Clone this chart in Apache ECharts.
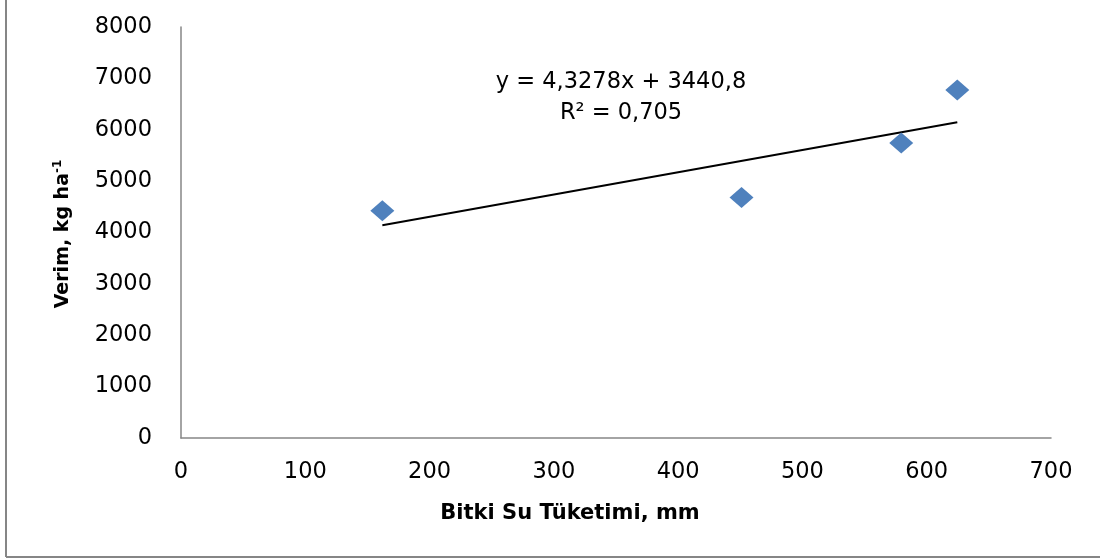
<!DOCTYPE html>
<html>
<head>
<meta charset="utf-8">
<script src="https://cdn.jsdelivr.net/npm/echarts@6/dist/echarts.min.js"></script>
<style>
html,body{margin:0;padding:0;background:#fff;}
#chart{width:1100px;height:559px;}
</style>
</head>
<body>
<div id="chart"></div>
<script>
// Data
var waterUse = [162, 451, 579.5, 624.6];          // Bitki Su Tüketimi, mm
var yieldVals = [4424, 4680, 5741, 6773];         // Verim, kg ha-1
var trendSlope = 4.3278;
var trendIntercept = 3440.8;
var equationText = 'y = 4,3278x + 3440,8';
var r2Text = 'R² = 0,705';
var xTitle = 'Bitki Su Tüketimi, mm';
var yTitle = 'Verim, kg ha{sup|-1}';

var points = waterUse.map(function (x, i) { return [x, yieldVals[i]]; });
var xMin = Math.min.apply(null, waterUse), xMax = Math.max.apply(null, waterUse);
var trend = [[xMin, trendSlope * xMin + trendIntercept], [xMax, trendSlope * xMax + trendIntercept]];

var font = 'DejaVu Sans';
var chart = echarts.init(document.getElementById('chart'), null, {renderer: 'canvas'});
chart.setOption({
  animation: false,
  backgroundColor: '#ffffff',
  grid: {left: 181, top: 27, right: 49, bottom: 121, containLabel: false},
  xAxis: {
    type: 'value', min: 0, max: 700, interval: 100,
    axisLine: {show: true, lineStyle: {color: '#868686', width: 1.5}},
    axisTick: {show: false},
    splitLine: {show: false},
    axisLabel: {color: '#000', fontFamily: font, fontSize: 22.5, margin: 23,
      formatter: function (v) { return String(v); }}
  },
  yAxis: {
    type: 'value', min: 0, max: 8000, interval: 1000,
    axisLine: {show: true, lineStyle: {color: '#868686', width: 1.5}},
    axisTick: {show: false},
    splitLine: {show: false},
    axisLabel: {color: '#000', fontFamily: font, fontSize: 22.5, margin: 29,
      formatter: function (v) { return String(v); }}
  },
  graphic: [
    {type: 'line', shape: {x1: 6, y1: 0, x2: 6, y2: 557}, style: {stroke: '#868686', lineWidth: 2}},
    {type: 'line', shape: {x1: 6, y1: 557, x2: 1100, y2: 557}, style: {stroke: '#868686', lineWidth: 2}},
    {type: 'text', x: 570, y: 514, style: {text: xTitle, fill: '#000', font: 'bold 21px "DejaVu Sans"', textAlign: 'center', textVerticalAlign: 'middle'}},
    {type: 'text', x: 63, y: 234, rotation: Math.PI / 2,
      style: {text: yTitle, fill: '#000', fontFamily: font, fontWeight: 'bold', fontSize: 19, align: 'center', verticalAlign: 'middle',
        rich: {sup: {fontSize: 12, fontWeight: 'bold', fontFamily: font, verticalAlign: 'top', padding: [0, 0, 10, 0]}}}},
    {type: 'text', x: 621, y: 82, style: {text: equationText, fill: '#000', font: '22.5px "DejaVu Sans"', textAlign: 'center', textVerticalAlign: 'middle'}},
    {type: 'text', x: 621, y: 113, style: {text: r2Text, fill: '#000', font: '22.5px "DejaVu Sans"', textAlign: 'center', textVerticalAlign: 'middle'}}
  ],
  series: [
    {type: 'line', data: trend, symbol: 'none', lineStyle: {color: '#000', width: 2}, z: 2},
    {type: 'scatter', data: points, symbol: 'diamond', symbolSize: [24, 21], itemStyle: {color: '#4F81BD', opacity: 1}, z: 3}
  ]
});
</script>
</body>
</html>
